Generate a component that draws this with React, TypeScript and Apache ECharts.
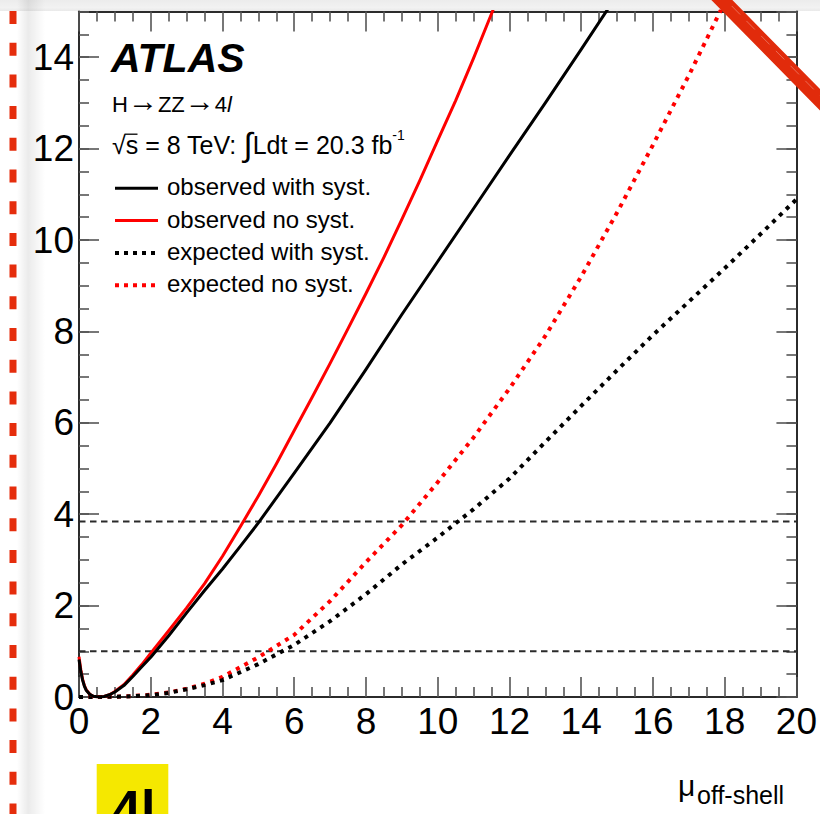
import React, { useEffect, useRef } from 'react';
import * as echarts from 'echarts';

const FONT = '"Liberation Sans", Arial, Helvetica, sans-serif';

// -2 ln Λ scans versus the off-shell signal strength, as [mu, value] pairs
const observedWithSyst: [number, number][] = [
  [0, 0.82], [0.05, 0.56], [0.1, 0.37], [0.15, 0.24], [0.2, 0.15], [0.3, 0.06], [0.4, 0.015],
  [0.55, 0], [0.7, 0.01], [0.85, 0.05], [1.0, 0.11], [1.25, 0.25], [1.5, 0.45], [1.75, 0.66],
  [2.0, 0.87], [2.5, 1.34], [3.0, 1.84], [3.5, 2.33], [4.0, 2.8], [4.5, 3.3], [5.0, 3.81],
  [6.0, 4.9], [7.0, 6.0], [8.0, 7.17], [9.0, 8.37], [10.0, 9.53], [11.0, 10.69], [12.0, 11.85],
  [13.0, 13.0], [14.0, 14.17], [15.0, 15.36],
];

const observedNoSyst: [number, number][] = [
  [0, 0.88], [0.05, 0.6], [0.1, 0.39], [0.15, 0.25], [0.2, 0.16], [0.3, 0.06], [0.4, 0.015],
  [0.55, 0], [0.7, 0.01], [0.85, 0.05], [1.0, 0.12], [1.25, 0.27], [1.5, 0.48], [1.75, 0.71],
  [2.0, 0.96], [2.5, 1.45], [3.0, 1.95], [3.5, 2.48], [4.0, 3.08], [4.5, 3.73], [5.0, 4.4],
  [5.5, 5.1], [6.0, 5.83], [6.5, 6.56], [7.0, 7.3], [7.5, 8.06], [8.0, 8.83], [8.5, 9.62],
  [9.0, 10.45], [9.5, 11.3], [10.0, 12.18], [10.5, 13.05], [11.0, 13.98], [11.5, 14.95], [12.0, 15.95],
];

const expectedWithSyst: [number, number][] = [
  [0, 0], [0.5, 0], [1, 0.005], [1.5, 0.015], [2, 0.04], [2.5, 0.09], [3, 0.17], [3.5, 0.26],
  [4, 0.37], [5, 0.72], [6, 1.14], [7, 1.66], [8, 2.25], [9, 2.9], [10, 3.49], [11, 4.11],
  [12, 4.78], [13, 5.58], [14, 6.37], [15, 7.15], [16, 7.92], [17, 8.65], [18, 9.38],
  [19, 10.13], [20, 10.89],
];

const expectedNoSyst: [number, number][] = [
  [0, 0], [0.5, 0], [1, 0.005], [1.5, 0.02], [2, 0.05], [2.5, 0.1], [3, 0.18], [3.5, 0.29],
  [4, 0.44], [5, 0.87], [6, 1.36], [7, 2.1], [8, 2.95], [9, 3.76], [10, 4.7], [11, 5.68],
  [12, 6.75], [13, 7.9], [14, 9.2], [15, 10.6], [16, 12.08], [17, 13.6], [18, 15.2], [18.5, 16.0],
];

// 68% and 95% CL reference levels
const thresholdLevels = [1, 3.84];

const legendNames = ['observed with syst.', 'observed no syst.', 'expected with syst.', 'expected no syst.'];
const legendColors = ['#000000', '#ff0000', '#000000', '#ff0000'];
const legendDotted = [false, false, true, true];

const DOT_DASH = [4, 5.5];

function curve(name: string, data: [number, number][], color: string, dotted: boolean, z: number) {
  return {
    type: 'line',
    name,
    data,
    symbol: 'none',
    showSymbol: false,
    smooth: false,
    silent: true,
    z,
    xAxisIndex: 0,
    yAxisIndex: 0,
    lineStyle: { color, width: dotted ? 4 : 3, type: dotted ? DOT_DASH : 'solid', cap: 'butt', join: 'round' },
  };
}

const axisLineStyle = { color: '#2b2b2b', width: 2 };
const tickStyle = { color: '#555555', width: 1.6 };

function xAxisDef(position: 'bottom' | 'top', labels: boolean) {
  return {
    type: 'value',
    position,
    min: 0,
    max: 20,
    interval: 2,
    splitLine: { show: false },
    axisLine: { show: true, onZero: false, lineStyle: axisLineStyle },
    axisTick: { show: true, inside: true, length: 20, lineStyle: tickStyle },
    minorTick: { show: true, splitNumber: 4, length: 10, lineStyle: tickStyle },
    minorSplitLine: { show: false },
    axisLabel: labels
      ? { show: true, fontSize: 37, color: '#000', fontFamily: FONT, margin: 6 }
      : { show: false },
  };
}

function yAxisDef(position: 'left' | 'right', interval: number, tickLen: number, line: boolean, labels: boolean) {
  return {
    type: 'value',
    position,
    min: 0,
    max: 15,
    interval,
    splitLine: { show: false },
    axisLine: { show: line, onZero: false, lineStyle: axisLineStyle },
    axisTick: { show: true, inside: true, length: tickLen, lineStyle: tickStyle },
    axisLabel: labels
      ? { show: true, fontSize: 37, color: '#000', fontFamily: FONT, margin: 5, showMaxLabel: false, padding: [5, 0, 0, 0] }
      : { show: false },
  };
}

function buildLegend() {
  const items: any[] = [];
  legendNames.forEach((name, i) => {
    const baseY = 188.3 + i * 32.3;
    items.push({
      type: 'line',
      shape: { x1: 115, y1: baseY, x2: 158, y2: baseY },
      style: {
        stroke: legendColors[i],
        lineWidth: legendDotted[i] ? 4 : 3,
        lineDash: legendDotted[i] ? [4, 5] : null,
      },
    });
    items.push({
      type: 'text',
      x: 167,
      y: baseY - 1.5,
      style: { text: name, fontSize: 24, fontFamily: FONT, fill: '#000', verticalAlign: 'middle', align: 'left' },
    });
  });
  return items;
}

export default function App() {
  const ref = useRef<HTMLDivElement>(null);

  useEffect(() => {
    if (!ref.current) return;
    const chart = echarts.init(ref.current, undefined, { renderer: 'svg' });

    const option: any = {
      animation: false,
      backgroundColor: '#ffffff',
      grid: { left: 79, right: 23.5, top: 11.5, bottom: 117 },
      xAxis: [xAxisDef('bottom', true), xAxisDef('top', false)],
      yAxis: [
        yAxisDef('left', 2, 20, true, true),
        yAxisDef('left', 0.5, 10, false, false),
        yAxisDef('right', 2, 20, true, false),
        yAxisDef('right', 0.5, 10, false, false),
      ],
      series: [
        ...thresholdLevels.map((v, i) => ({
          type: 'line',
          name: 'level ' + i,
          data: [[0, v], [20, v]],
          symbol: 'none',
          silent: true,
          z: 1,
          lineStyle: { color: '#2a2a2a', width: 2, type: [6.5, 4.5] },
        })),
        curve(legendNames[3], expectedNoSyst, legendColors[3], true, 2),
        curve(legendNames[2], expectedWithSyst, legendColors[2], true, 3),
        curve(legendNames[1], observedNoSyst, legendColors[1], false, 4),
        curve(legendNames[0], observedWithSyst, legendColors[0], false, 5),
      ],
      graphic: [
        // soft page shadows
        {
          type: 'rect',
          z: -1,
          shape: { x: 0, y: 0, width: 820, height: 11 },
          style: {
            fill: new echarts.graphic.LinearGradient(0, 0, 0, 1, [
              { offset: 0, color: '#ececec' },
              { offset: 0.7, color: '#f2f2f2' },
              { offset: 1, color: '#e9e9e9' },
            ]),
          },
        },
        {
          type: 'rect',
          z: -1,
          shape: { x: 17, y: 0, width: 28, height: 814 },
          style: {
            fill: new echarts.graphic.LinearGradient(0, 0, 1, 0, [
              { offset: 0, color: 'rgba(0,0,0,0)' },
              { offset: 0.4, color: 'rgba(0,0,0,0.08)' },
              { offset: 1, color: 'rgba(0,0,0,0)' },
            ]),
          },
        },
        // red dashed margin marker
        {
          type: 'line',
          shape: { x1: 13, y1: 11, x2: 13, y2: 830 },
          style: { stroke: '#e52d0c', lineWidth: 7, lineDash: [13, 18.7] },
        },
        // red marker stroke across the corner
        {
          type: 'line',
          z: 100,
          shape: { x1: 712, y1: -10, x2: 832, y2: 112 },
          style: { stroke: '#e12b0b', lineWidth: 15, lineCap: 'round' },
        },
        {
          type: 'line',
          z: 101,
          shape: { x1: 717, y1: -9, x2: 834, y2: 110 },
          style: { stroke: 'rgba(255,255,255,0.3)', lineWidth: 1, lineDash: [12, 9] },
        },
        // yellow tag
        {
          type: 'rect',
          shape: { x: 96.7, y: 764, width: 71.6, height: 60 },
          style: { fill: '#f5e800' },
        },
        {
          type: 'text',
          x: 112,
          y: 783,
          style: { text: '4l', fontSize: 52, fontWeight: 'bold', fontFamily: FONT, fill: '#000', verticalAlign: 'top', align: 'left' },
        },
        // experiment label
        {
          type: 'text',
          x: 111,
          y: 57.8,
          style: {
            text: 'ATLAS', fontSize: 41, fontWeight: 'bold', fontStyle: 'italic', fontFamily: FONT,
            fill: '#000', verticalAlign: 'middle', align: 'left',
          },
        },
        {
          type: 'text',
          x: 112,
          y: 104,
          style: {
            text: '{a|H}{r|→}{a|ZZ}{r|→}{a|4}{i|l}',
            verticalAlign: 'middle',
            align: 'left',
            rich: {
              a: { fontSize: 22, fontFamily: FONT, fill: '#000' },
              r: { fontSize: 30, fontFamily: FONT, fill: '#000', padding: [0, 0, 8, 0] },
              i: { fontSize: 22, fontFamily: FONT, fontStyle: 'italic', fill: '#000' },
            },
          },
        },
        {
          type: 'text',
          x: 112,
          y: 144.5,
          style: {
            text: '{a|√s = 8 TeV: }{b|∫}{a|Ldt = 20.3 fb}{c|-1}',
            verticalAlign: 'middle',
            align: 'left',
            rich: {
              a: { fontSize: 25, fontFamily: FONT, fill: '#000' },
              b: { fontSize: 33, fontFamily: FONT, fill: '#000' },
              c: { fontSize: 14, fontFamily: FONT, fill: '#000', verticalAlign: 'top', lineHeight: 20 },
            },
          },
        },
        // bar of the square root over "s"
        {
          type: 'line',
          shape: { x1: 124.5, y1: 134.2, x2: 137.5, y2: 134.2 },
          style: { stroke: '#000', lineWidth: 1.3 },
        },
        ...buildLegend(),
        // x-axis title
        {
          type: 'text',
          x: 678,
          y: 785,
          style: { text: 'μ', fontSize: 30, fontFamily: FONT, fill: '#000', verticalAlign: 'middle', align: 'left' },
        },
        {
          type: 'text',
          x: 697,
          y: 795.3,
          style: { text: 'off-shell', fontSize: 25, fontFamily: FONT, fill: '#000', verticalAlign: 'middle', align: 'left' },
        },
      ],
    };

    chart.setOption(option);
    return () => chart.dispose();
  }, []);

  return (
    <div
      ref={ref}
      style={{ position: 'fixed', left: 0, top: 0, width: 820, height: 814, background: '#fff' }}
    />
  );
}
